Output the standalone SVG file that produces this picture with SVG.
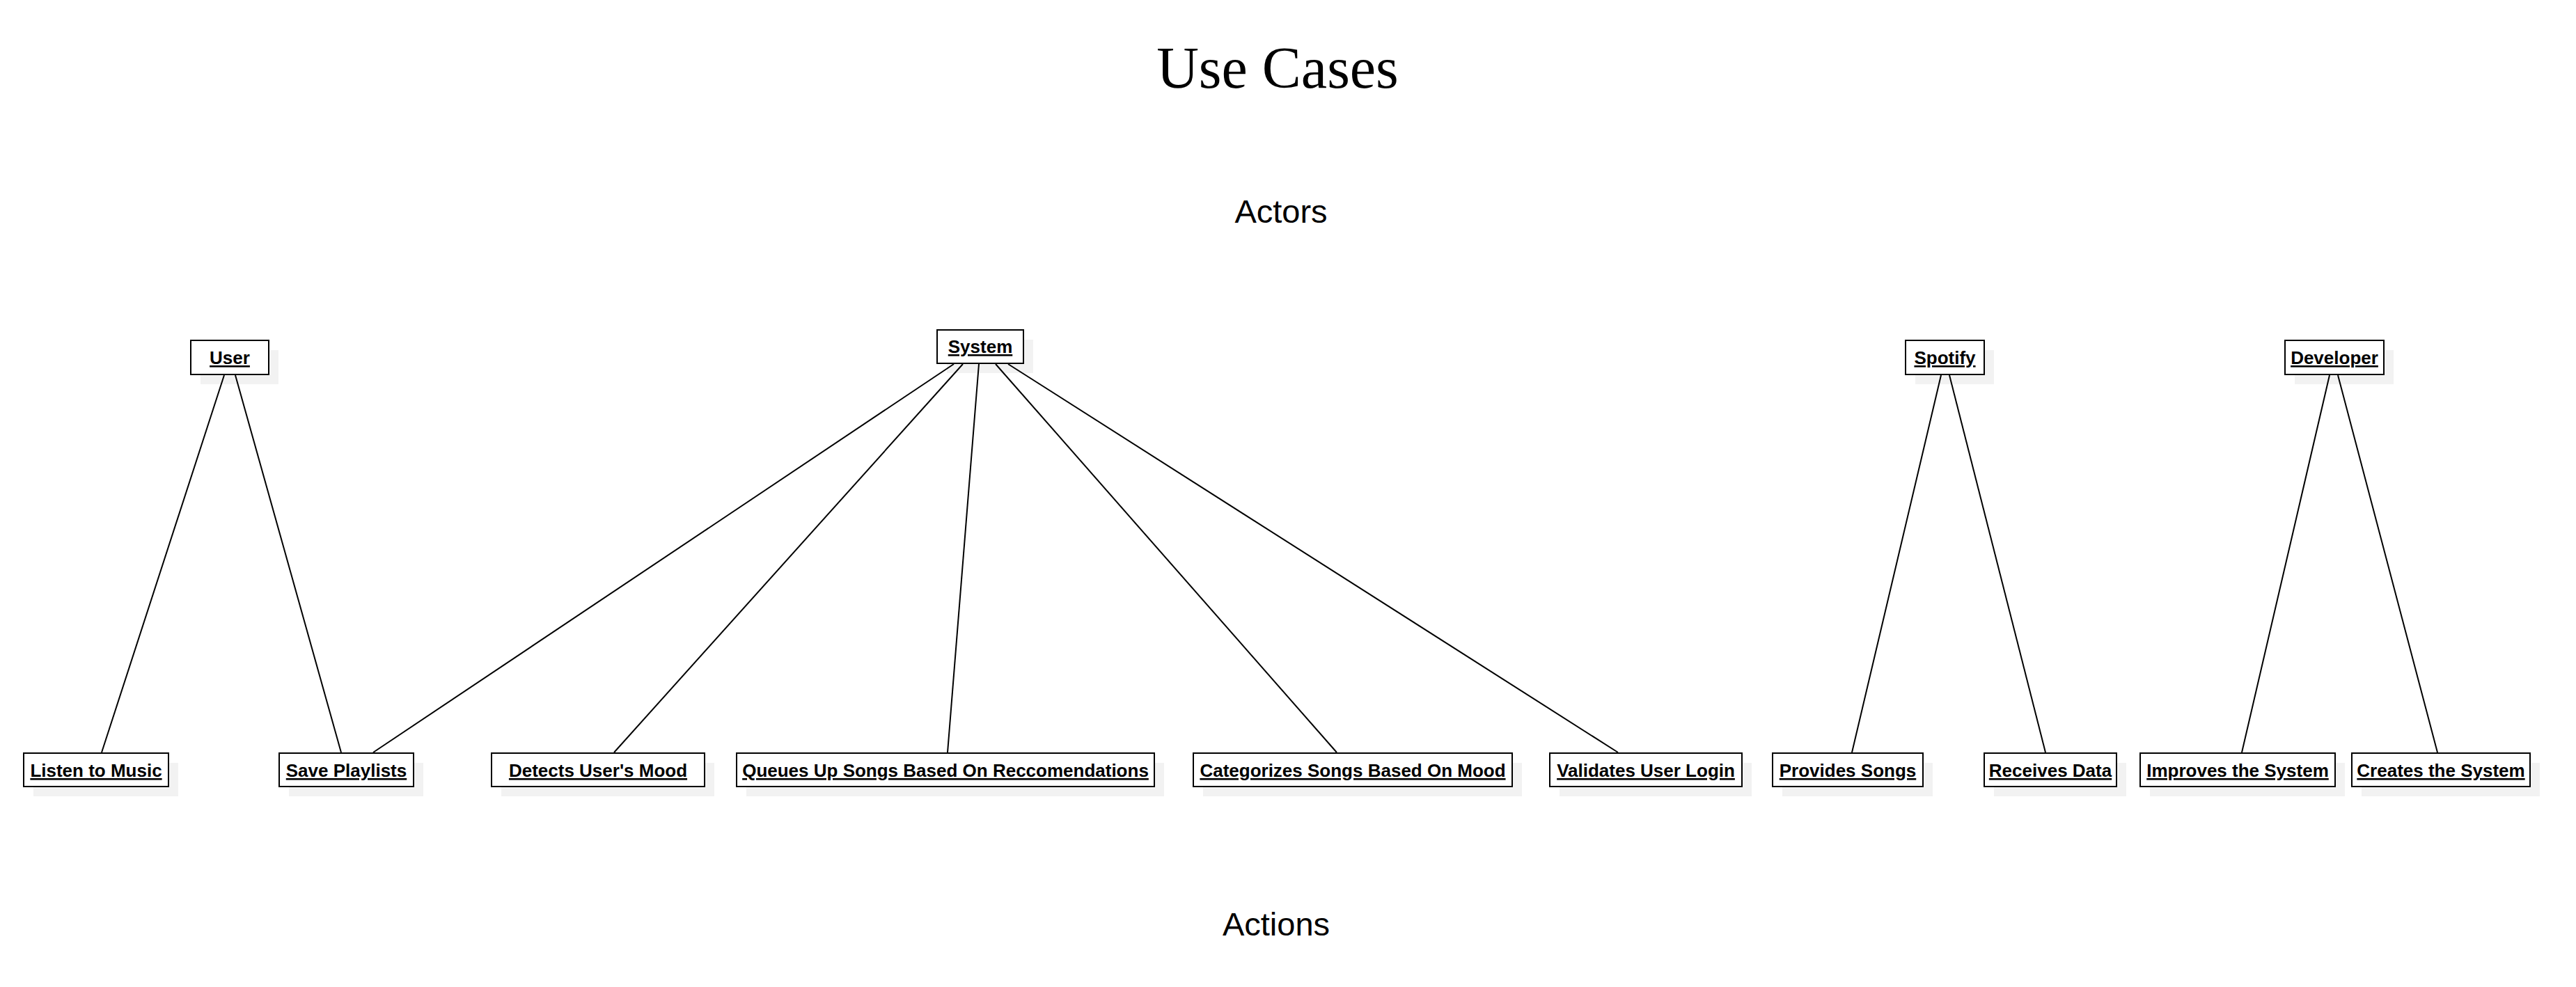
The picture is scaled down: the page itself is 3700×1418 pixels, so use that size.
<svg xmlns="http://www.w3.org/2000/svg" width="3700" height="1418" viewBox="0 0 3700 1418">
<style>
.bg{fill:#ffffff}
.sh{fill:#f2f2f2;stroke:none}
.box{fill:#ffffff;stroke:#000000;stroke-width:2}
.lbl{font-family:"Liberation Sans",Arial,sans-serif;font-size:26px;font-weight:bold;text-anchor:middle;text-decoration:underline;fill:#000000}
.title{font-family:"Liberation Serif","Times New Roman",serif;font-size:84px;text-anchor:middle;fill:#000000}
.head{font-family:"Liberation Sans",Arial,sans-serif;font-size:47px;text-anchor:middle;fill:#000000}
.conn line{stroke:#000000;stroke-width:2;fill:none}
</style>
<rect class="bg" x="0" y="0" width="3700" height="1418"/>
<text class="title" x="1835" y="126">Use Cases</text>
<text class="head" x="1840" y="320">Actors</text>
<text class="head" x="1833" y="1344">Actions</text>

<g id="user"><rect class="sh" x="288" y="503" width="112" height="49"/><rect class="box" x="274" y="489" width="112" height="49"/><text class="lbl" x="330" y="523">User</text></g>
<g id="system"><rect class="sh" x="1360" y="488" width="124" height="48"/><rect class="box" x="1346" y="474" width="124" height="48"/><text class="lbl" x="1408" y="507">System</text></g>
<g id="spotify"><rect class="sh" x="2751" y="503" width="113" height="49"/><rect class="box" x="2737" y="489" width="113" height="49"/><text class="lbl" x="2793.5" y="523">Spotify</text></g>
<g id="developer"><rect class="sh" x="3296" y="503" width="142" height="49"/><rect class="box" x="3282" y="489" width="142" height="49"/><text class="lbl" x="3353" y="523">Developer</text></g>

<g id="listen"><rect class="sh" x="48" y="1096" width="208" height="48"/><rect class="box" x="34" y="1082" width="208" height="48"/><text class="lbl" x="138" y="1116">Listen to Music</text></g>
<g id="save"><rect class="sh" x="415" y="1096" width="193" height="48"/><rect class="box" x="401" y="1082" width="193" height="48"/><text class="lbl" x="497.5" y="1116">Save Playlists</text></g>
<g id="detects"><rect class="sh" x="720" y="1096" width="306" height="48"/><rect class="box" x="706" y="1082" width="306" height="48"/><text class="lbl" x="859" y="1116">Detects User's Mood</text></g>
<g id="queues"><rect class="sh" x="1072" y="1096" width="600" height="48"/><rect class="box" x="1058" y="1082" width="600" height="48"/><text class="lbl" x="1358" y="1116">Queues Up Songs Based On Reccomendations</text></g>
<g id="categorizes"><rect class="sh" x="1728" y="1096" width="458" height="48"/><rect class="box" x="1714" y="1082" width="458" height="48"/><text class="lbl" x="1943" y="1116">Categorizes Songs Based On Mood</text></g>
<g id="validates"><rect class="sh" x="2240" y="1096" width="276" height="48"/><rect class="box" x="2226" y="1082" width="276" height="48"/><text class="lbl" x="2364" y="1116">Validates User Login</text></g>
<g id="provides"><rect class="sh" x="2560" y="1096" width="216" height="48"/><rect class="box" x="2546" y="1082" width="216" height="48"/><text class="lbl" x="2654" y="1116">Provides Songs</text></g>
<g id="receives"><rect class="sh" x="2864" y="1096" width="190" height="48"/><rect class="box" x="2850" y="1082" width="190" height="48"/><text class="lbl" x="2945" y="1116">Receives Data</text></g>
<g id="improves"><rect class="sh" x="3088" y="1096" width="280" height="48"/><rect class="box" x="3074" y="1082" width="280" height="48"/><text class="lbl" x="3214" y="1116">Improves the System</text></g>
<g id="creates"><rect class="sh" x="3392" y="1096" width="256" height="48"/><rect class="box" x="3378" y="1082" width="256" height="48"/><text class="lbl" x="3506" y="1116">Creates the System</text></g>

<g id="connectors" class="conn">
<line x1="322" y1="539" x2="146" y2="1081"/>
<line x1="338" y1="539" x2="490" y2="1081"/>
<line x1="1370" y1="523" x2="536" y2="1081"/>
<line x1="1383" y1="523" x2="882" y2="1081"/>
<line x1="1406" y1="523" x2="1361" y2="1081"/>
<line x1="1430" y1="523" x2="1920" y2="1081"/>
<line x1="1448" y1="523" x2="2324" y2="1081"/>
<line x1="2788" y1="539" x2="2660" y2="1081"/>
<line x1="2800" y1="539" x2="2938" y2="1081"/>
<line x1="3346" y1="539" x2="3220" y2="1081"/>
<line x1="3358" y1="539" x2="3501" y2="1081"/>
</g>
</svg>
